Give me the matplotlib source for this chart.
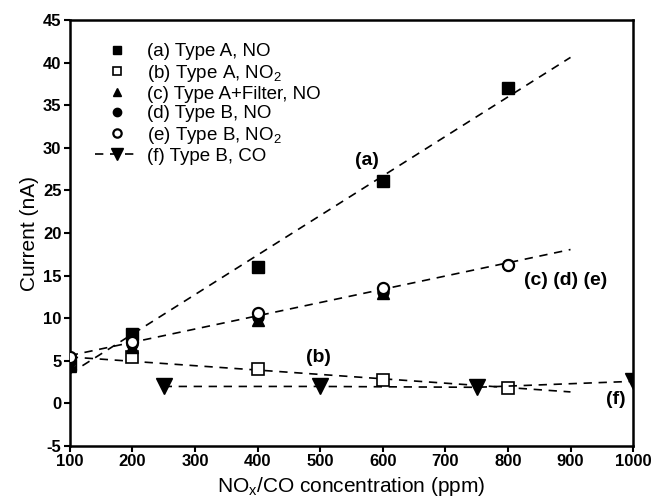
import numpy as np
import matplotlib.pyplot as plt

plt.rcParams['font.family'] = ['Liberation Sans', 'DejaVu Sans']
plt.rcParams['axes.unicode_minus'] = False
plt.rcParams['mathtext.default'] = 'regular'

# concentrations (ppm) and currents (nA)
conc = [100, 200, 400, 600, 800]
a_typeA_no = [4.5, 8.1, 16.0, 26.1, 37.0]
b_typeA_no2 = [5.0, 5.4, 4.1, 2.8, 1.8]
c_filter_no = [4.4, 6.6, 9.8, 13.0]
d_typeB_no = [5.0, 7.0, 10.1, 13.1, 16.2]
e_typeB_no2 = [5.4, 7.2, 10.6, 13.5, 16.3]

co_conc = [250, 500, 750, 1000]
f_typeB_co = [2.0, 2.0, 1.9, 2.6]

labels = ['(a) Type A, NO', '(b) Type A, NO$_2$', '(c) Type A+Filter, NO',
          '(d) Type B, NO', '(e) Type B, NO$_2$', '(f) Type B, CO']

fig = plt.figure(figsize=(6.52, 4.99), dpi=100)
ax = fig.add_axes([0.107, 0.106, 0.864, 0.854])

dash = (0, (5, 4))
fit_x = np.array([100, 900])

# linear fits (dashed)
for ys in [a_typeA_no, b_typeA_no2, e_typeB_no2]:
    p = np.polyfit(conc, ys, 1)
    ax.plot(fit_x, np.polyval(p, fit_x), color='black', lw=1.2, linestyle=dash, zorder=1)

ms = 8
ax.plot(conc, a_typeA_no, 's', color='black', ms=ms, label=labels[0], zorder=3)
ax.plot(conc, b_typeA_no2, 's', mfc='white', mec='black', mew=1.2, ms=ms, label=labels[1], zorder=3)
ax.plot(conc[:4], c_filter_no, '^', color='black', ms=ms, label=labels[2], zorder=3)
ax.plot(conc, d_typeB_no, 'o', color='black', ms=ms, label=labels[3], zorder=3)
ax.plot(conc, e_typeB_no2, 'o', mfc='white', mec='black', mew=1.6, ms=ms, label=labels[4], zorder=4)
ax.plot(co_conc, f_typeB_co, 'v', color='black', ms=11, lw=1.2, linestyle=dash,
        label=labels[5], zorder=3)

ax.text(575, 28.5, '(a)', fontsize=14, fontweight='bold', ha='center', va='center')
ax.text(497, 5.4, '(b)', fontsize=14, fontweight='bold', ha='center', va='center')
ax.text(893, 14.4, '(c) (d) (e)', fontsize=14, fontweight='bold', ha='center', va='center')
ax.text(972, 0.5, '(f)', fontsize=14, fontweight='bold', ha='center', va='center')

ax.set_xlim(100, 1000)
ax.set_ylim(-5, 45)
ax.set_xticks(range(100, 1001, 100))
ax.set_yticks(range(-5, 46, 5))
ax.tick_params(direction='out', length=4, width=1.5, labelsize=12, pad=2)
for lab in ax.get_xticklabels() + ax.get_yticklabels():
    lab.set_fontweight('bold')
for sp in ax.spines.values():
    sp.set_linewidth(1.8)

ax.set_xlabel('NO$_x$/CO concentration (ppm)', fontsize=15, labelpad=4)
ax.set_ylabel('Current (nA)', fontsize=15, labelpad=3)

leg = ax.legend(loc='upper left', bbox_to_anchor=(0.014, 0.985), frameon=False,
                fontsize=13.5, handlelength=2.4, labelspacing=0.12, handletextpad=0.4,
                markerscale=0.75)

fig.savefig('out.png', dpi=100)
